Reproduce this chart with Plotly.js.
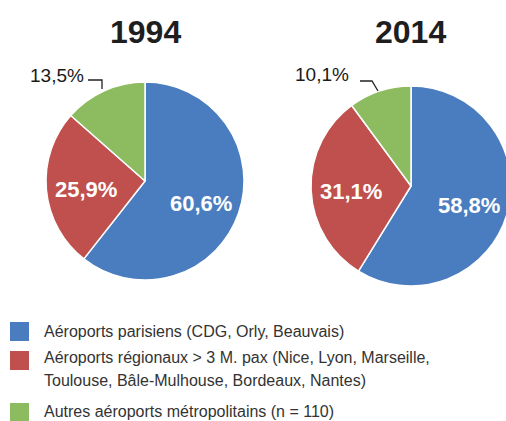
<!DOCTYPE html>
<html><head><meta charset="utf-8">
<script src="https://cdn.plot.ly/plotly-3.0.1.min.js"></script>
<style>html,body{margin:0;padding:0;overflow:hidden;background:#fff}</style>
</head><body><div id="chart"></div>
<script>
const categories = [
  "Aéroports parisiens (CDG, Orly, Beauvais)",
  "Aéroports régionaux > 3 M. pax (Nice, Lyon, Marseille,<br>Toulouse, Bâle-Mulhouse, Bordeaux, Nantes)",
  "Autres aéroports métropolitains (n = 110)"
];
const years = ["1994", "2014"];
const values1994 = [60.6, 25.9, 13.5];
const values2014 = [58.8, 31.1, 10.1];
const colors = ["#4a7dbf", "#c0504d", "#8dbb60"];

const W = 520, H = 421;
const px = x => x / W;
const py = y => 1 - y / H;
const FONT = "Liberation Sans, Arial, sans-serif";

function fmt(v) { return v.toFixed(1).replace('.', ',') + '%'; }

const pies = [
  {vals: values1994, cx: 145, cy: 181, r: 99},
  {vals: values2014, cx: 411, cy: 186, r: 100}
];

const traces = pies.map((p, i) => ({
  type: 'pie',
  name: years[i],
  labels: categories,
  values: p.vals,
  sort: false,
  direction: 'clockwise',
  rotation: 0,
  marker: {colors: colors, line: {color: '#ffffff', width: 1.5}},
  textinfo: 'none',
  hoverinfo: 'label+percent',
  showlegend: false,
  domain: {x: [px(p.cx - p.r), px(p.cx + p.r)], y: [py(p.cy + p.r), py(p.cy - p.r)]}
}));

const annotations = [];
const shapes = [];

pies.forEach(p => {
  const total = p.vals.reduce((a, b) => a + b, 0);
  let acc = 0;
  p.vals.forEach((v, k) => {
    const mid = (acc + v / 2) / total * 2 * Math.PI;
    acc += v;
    if (k === 2) return;
    const x = p.cx + 0.6 * p.r * Math.sin(mid);
    const y = p.cy - 0.6 * p.r * Math.cos(mid) + 3;
    annotations.push({text: fmt(v), xref: 'paper', yref: 'paper', x: px(x), y: py(y),
      xanchor: 'center', yanchor: 'middle', showarrow: false,
      font: {family: FONT, size: 22, color: '#ffffff', weight: 'bold'}});
  });
});

[[145, 32], [410, 32]].forEach((pos, i) => {
  annotations.push({text: years[i], xref: 'paper', yref: 'paper', x: px(pos[0]), y: py(pos[1]),
    xanchor: 'center', yanchor: 'middle', showarrow: false,
    font: {family: FONT, size: 32, color: '#1e1e1e', weight: 'bold'}});
});

annotations.push({text: fmt(values1994[2]), xref: 'paper', yref: 'paper', x: px(86), y: py(75),
  xanchor: 'right', yanchor: 'middle', showarrow: false, font: {family: FONT, size: 19, color: '#1a1a1a'}});
annotations.push({text: fmt(values2014[2]), xref: 'paper', yref: 'paper', x: px(351), y: py(74),
  xanchor: 'right', yanchor: 'middle', showarrow: false, font: {family: FONT, size: 19, color: '#1a1a1a'}});

shapes.push({type: 'path', xref: 'paper', yref: 'paper',
  path: `M ${px(88)} ${py(80)} L ${px(102)} ${py(80)} L ${px(102)} ${py(89)}`,
  line: {color: '#222', width: 1.3}});
shapes.push({type: 'path', xref: 'paper', yref: 'paper',
  path: `M ${px(360)} ${py(81)} L ${px(372)} ${py(81)} L ${px(378)} ${py(91)}`,
  line: {color: '#222', width: 1.3}});

const legendRows = [[331], [357, 380], [411]];
const squareTop = [322, 351, 403];
categories.forEach((c, i) => {
  shapes.push({type: 'rect', xref: 'paper', yref: 'paper',
    x0: px(10), x1: px(29), y0: py(squareTop[i]), y1: py(squareTop[i] + 19),
    fillcolor: colors[i], line: {width: 0}});
  c.split('<br>').forEach((line, j) => {
    annotations.push({text: line, xref: 'paper', yref: 'paper', x: px(42), y: py(legendRows[i][j]),
      xanchor: 'left', yanchor: 'middle', showarrow: false,
      font: {family: FONT, size: 16, color: '#333333'}});
  });
});

Plotly.newPlot('chart', traces, {
  width: W, height: H,
  margin: {l: 0, r: 0, t: 0, b: 0},
  paper_bgcolor: '#ffffff',
  separators: ', ',
  annotations: annotations,
  shapes: shapes
}, {displayModeBar: false, staticPlot: true});
</script></body></html>
